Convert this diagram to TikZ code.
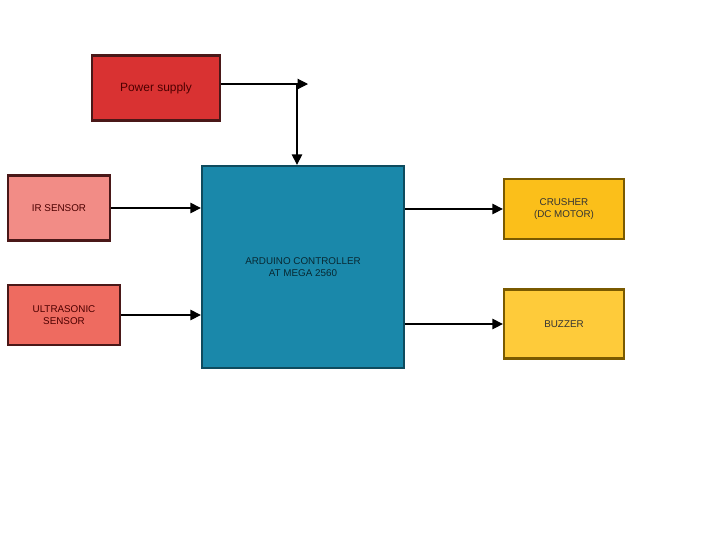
\documentclass[tikz,border=0pt]{standalone}
\usepackage{fontspec}
\setmainfont{Liberation Sans}
\usetikzlibrary{arrows.meta}

\definecolor{pwrred}{HTML}{D93232}
\definecolor{irred}{HTML}{F28C86}
\definecolor{usred}{HTML}{EE6B60}
\definecolor{redline}{HTML}{4A1818}
\definecolor{ctrlblue}{HTML}{1A88AA}
\definecolor{crushyellow}{HTML}{FBBF1A}
\definecolor{buzzyellow}{HTML}{FECB3A}
\definecolor{yellowline}{HTML}{7A5A00}

\tikzset{
  block/.style={draw,line width=1.6pt,rectangle,align=center,
    font=\fontsize{7}{8.5}\selectfont},
  redblock/.style={block,draw=redline,text=red!30!black},
  yellowblock/.style={block,draw=yellowline,text=black!80},
}

\begin{document}
\begin{tikzpicture}[>={Triangle[length=2.6mm,width=2.6mm]},x=0.025cm,y=-0.025cm]

\useasboundingbox (0,0) rectangle (720,548);

\node[redblock,fill=pwrred,minimum width=3.2cm,minimum height=1.625cm,font=\fontsize{8.5}{10}\selectfont] (power) at (156,88) {Power supply};
\node[redblock,fill=irred,minimum width=2.55cm,minimum height=1.625cm] (ir) at (59,208) {IR SENSOR};
\node[redblock,fill=usred,minimum width=2.8cm,minimum height=1.5cm] (ultra) at (64,315) {ULTRASONIC\\SENSOR};

\node[block,fill=ctrlblue,draw=ctrlblue!55!black,text=ctrlblue!30!black,minimum width=5.05cm,minimum height=5.05cm] (ctrl) at (303,267) {ARDUINO CONTROLLER\\AT MEGA 2560};

\node[yellowblock,fill=crushyellow,minimum width=3cm,minimum height=1.5cm] (crusher) at (564,209) {CRUSHER\\(DC MOTOR)};
\node[yellowblock,fill=buzzyellow,minimum width=3cm,minimum height=1.725cm] (buzzer) at (564,324) {BUZZER};

% power line
\coordinate (pwrtap) at (297,84);
\coordinate (pwrend) at (308,84);
\draw[->,line width=0.8pt] (power.east |- pwrend) -- (pwrend);
\draw[->,line width=0.8pt] (pwrtap) -- (pwrtap |- ctrl.north);

% inputs
\draw[->,line width=0.8pt] (ir) -- (ir -| ctrl.west);
\draw[->,line width=0.8pt] (ultra) -- (ultra -| ctrl.west);

% outputs
\draw[->,line width=0.8pt] (crusher -| ctrl.east) -- (crusher);
\draw[->,line width=0.8pt] (buzzer -| ctrl.east) -- (buzzer);

\end{tikzpicture}
\end{document}
